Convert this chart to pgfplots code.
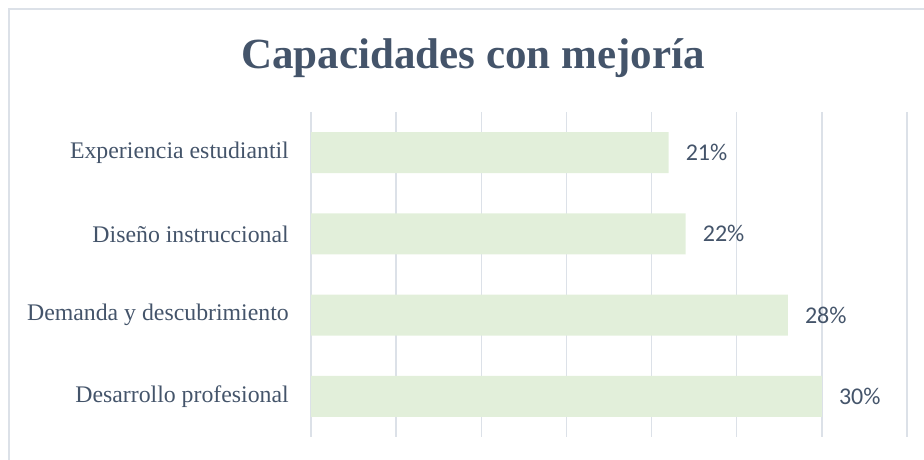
\documentclass[border=0pt]{standalone}
\usepackage{fontspec}
\setmainfont{Liberation Serif}
\newfontfamily\calib{Carlito}
\usepackage{pgfplots}
\pgfplotsset{compat=1.18}

\definecolor{textdark}{HTML}{44546A}
\definecolor{barfill}{HTML}{E2EFDA}
\definecolor{gridc}{HTML}{DCE1E8}

\begin{document}
\begin{tikzpicture}[x=1bp,y=1bp]
\useasboundingbox (0,0) rectangle (924,460);
% chart frame (cropped at right and bottom)
\draw[gridc, line width=2bp] (9,0) -- (9,451) -- (924,451);
% title
\node[anchor=base, text=textdark, font=\fontsize{43bp}{48bp}\selectfont\bfseries]
  at (473,391) {Capacidades con mejoría};

\begin{axis}[
    at={(311bp,23bp)}, anchor=south west,
    scale only axis,
    width=596bp, height=325bp,
    xbar,
    bar width=41bp,
    xmin=0, xmax=35,
    xtick={0,5,...,35},
    xticklabels={},
    ymin=-0.5, ymax=3.5,
    y dir=reverse,
    ytick={0,1,2,3},
    yticklabels={Experiencia estudiantil, Diseño instruccional, Demanda y descubrimiento, Desarrollo profesional},
    yticklabel style={font=\fontsize{23.8bp}{28bp}\selectfont, text=textdark, inner sep=0pt, xshift=-22bp},
    major tick length=0pt,
    axis line style={draw=none},
    xmajorgrids,
    grid style={gridc, line width=1.5bp},
    nodes near coords={\pgfplotspointmeta\%},
    nodes near coords style={font=\calib\fontsize{24bp}{28bp}\selectfont, text=textdark, anchor=west, inner sep=0pt, xshift=17bp},
    point meta=explicit symbolic,
]
\addplot[fill=barfill, draw=none] coordinates {(21,0) [21] (22,1) [22] (28,2) [28] (30,3) [30]};
\end{axis}
\end{tikzpicture}
\end{document}
